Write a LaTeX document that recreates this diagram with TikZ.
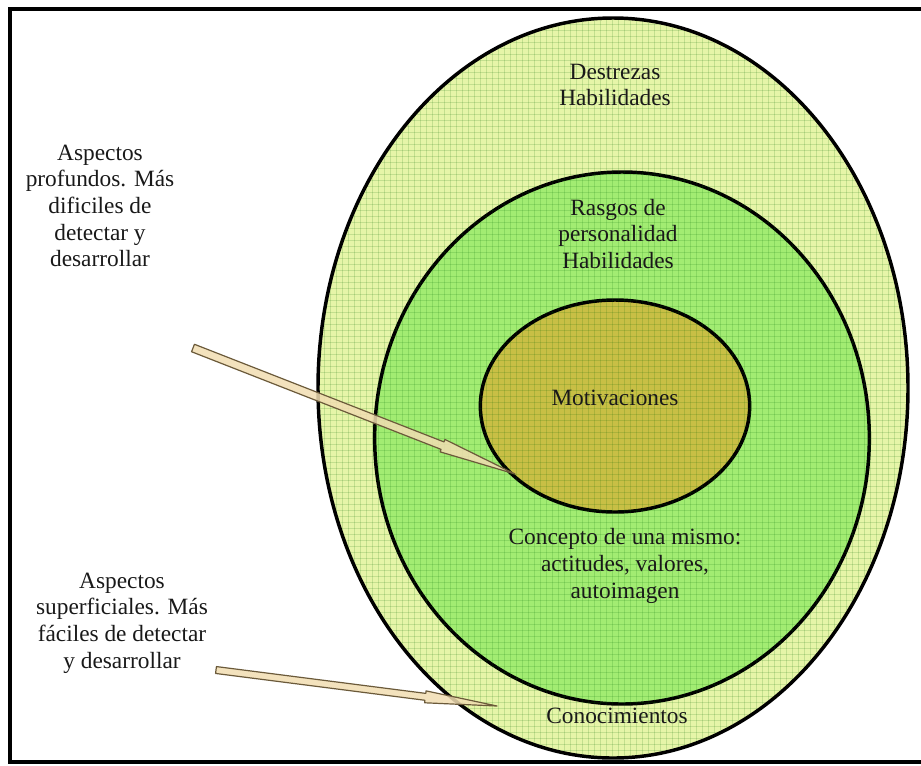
\documentclass[tikz,border=0pt]{standalone}
\usepackage{fontspec}
\setmainfont{Liberation Serif}
\usetikzlibrary{shapes.geometric,calc,positioning}

\definecolor{paleyel}{HTML}{E6F5A8}
\definecolor{limegrn}{HTML}{A2EC72}
\definecolor{olivefill}{HTML}{C8BF45}
\definecolor{tanfill}{HTML}{F1DDB2}
\definecolor{tanedge}{HTML}{6B5A3A}

\begin{document}
\begin{tikzpicture}[x=0.75pt, y=-0.75pt, semithick]
        \tikzstyle{ring}=[ellipse, draw=black, line width=2.6pt, inner sep=0pt, outer sep=0pt]
        \tikzstyle{txt}=[align=center, text=black!90, font=\fontsize{17.5}{20}\selectfont]
        \tikzstyle{pointer}=[draw=tanedge, fill=tanfill, fill opacity=0.85, line width=0.9pt, line join=round]
        \tikzstyle{mesh}=[line width=0.3pt, draw=green!40!black, opacity=0.15]

        \useasboundingbox (0,0) rectangle (921,765);
        % frame
        \draw[line width=3pt] (921,9) -- (10,9) -- (10,762) -- (921,762);

        % ellipses
        \node[ring, fill=paleyel, minimum width=442.5pt, minimum height=555pt]    (outer)  at (613,388) {};
        \node[ring, fill=limegrn, minimum width=371pt, minimum height=399pt]      (middle) at (622,438) {};
        \node[ring, fill=olivefill, minimum width=202pt, minimum height=159pt]    (inner)  at (615,406) {};

        % fine grid texture
        \begin{scope}
            \clip (613,388) ellipse [x radius=293, y radius=368];
            \foreach \k in {318,324,...,912} \draw[mesh] (\k,15) -- (\k,762);
            \foreach \k in {18,24,...,762} \draw[mesh] (316,\k) -- (912,\k);
        \end{scope}

        % texts
        \node[txt] (destrezas) at (615,85)  {Destrezas\\Habilidades};
        \node[txt] (rasgos)    at (618,234) {Rasgos de\\personalidad\\Habilidades};
        \node[txt] (motiv)     at (615,398) {Motivaciones};
        \node[txt] (concepto)  at (625,566) {Concepto de una mismo:\\actitudes, valores,\\autoimagen};
        \node[txt] (conoc)     at (617,716) {Conocimientos};
        \node[txt] (profundos) at (100,206) {Aspectos\\profundos. Más\\dificiles de\\detectar y\\desarrollar};
        \node[txt] (superf)    at (122,623) {Aspectos\\superficiales. Más\\fáciles de detectar\\y desarrollar};

        % arrows
        \coordinate (deepS) at (193,348);
        \coordinate (deepE) at (515,474);
        \coordinate (deepH) at ($(deepS)!0.775!(deepE)$);
        \coordinate (shalS) at (216,670);
        \coordinate (shalE) at (497,706);
        \coordinate (shalH) at ($(shalS)!0.745!(shalE)$);

        \draw[pointer] ($(deepS)!3pt!90:(deepE)$) -- ($(deepH)!3pt!90:(deepE)$) -- ($(deepH)!5pt!90:(deepE)$)
            -- (deepE) -- ($(deepH)!5pt!-90:(deepE)$) -- ($(deepH)!3pt!-90:(deepE)$) -- ($(deepS)!3pt!-90:(deepE)$) -- cycle;
        \draw[pointer] ($(shalS)!2.6pt!90:(shalE)$) -- ($(shalH)!2.6pt!90:(shalE)$) -- ($(shalH)!4.5pt!90:(shalE)$)
            -- (shalE) -- ($(shalH)!4.5pt!-90:(shalE)$) -- ($(shalH)!2.6pt!-90:(shalE)$) -- ($(shalS)!2.6pt!-90:(shalE)$) -- cycle;
\end{tikzpicture}
\end{document}
